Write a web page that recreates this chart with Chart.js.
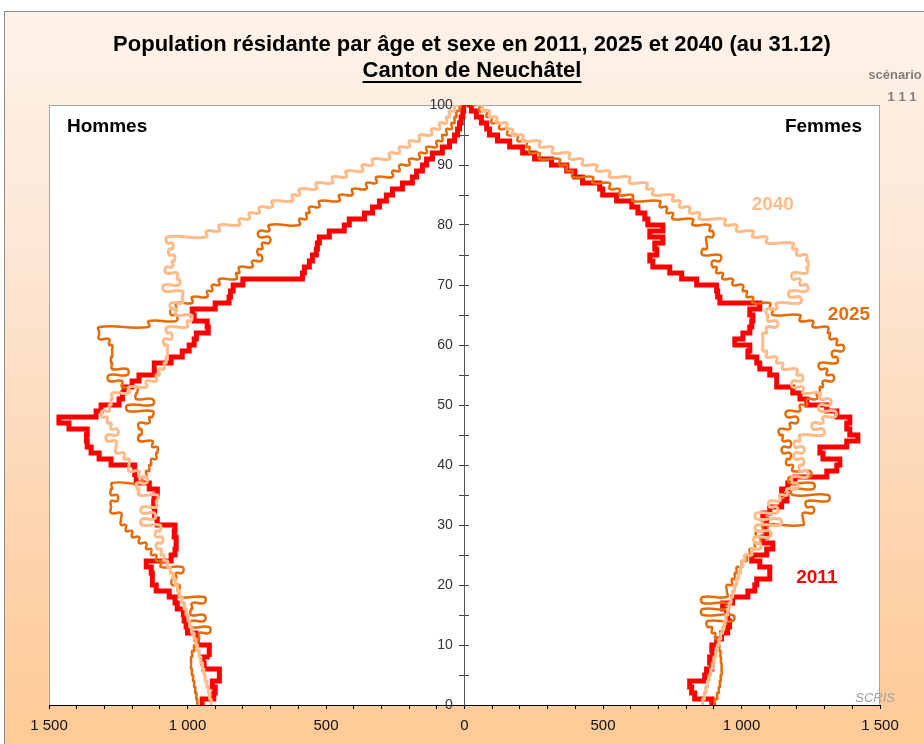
<!DOCTYPE html>
<html lang="fr">
<head>
<meta charset="UTF-8">
<title>Population résidante par âge et sexe - Canton de Neuchâtel</title>
<style>
  html, body { margin: 0; padding: 0; background: #fff; }
  #wrap { width: 924px; height: 744px; }
</style>
</head>
<body>
<div id="wrap"><canvas id="chart" width="924" height="744"></canvas></div>
<script src="https://cdn.jsdelivr.net/npm/chart.js"></script>
<script>
  // âges 0 à 100, une valeur par âge
  const hommes2011 = [
    947, 905, 900, 910, 885, 885, 940, 945, 920, 922,
    965, 970, 1000, 1005, 1012, 1015, 1037, 1045, 1066, 1113,
    1127, 1127, 1131, 1149, 1059, 1045, 1041, 1041, 1048, 1045,
    1109, 1120, 1118, 1122, 1120, 1109, 1138, 1185, 1192, 1190,
    1276, 1319, 1348, 1362, 1365, 1362, 1428, 1464, 1330, 1312,
    1247, 1235, 1229, 1200, 1175, 1120, 1120, 1059, 1019, 994,
    976, 968, 925, 929, 976, 983, 900, 850, 845, 835,
    800, 585, 578, 560, 549, 535, 531, 524, 488, 434,
    416, 361, 332, 307, 282, 260, 224, 188, 173, 152,
    137, 116, 80, 54, 36, 25, 18, 12, 6, 3, 1
  ];
  const hommes2025 = [
    965, 968, 972, 976, 980, 984, 987, 987, 983, 976,
    965, 958, 922, 987, 940, 987, 983, 940, 1030, 1030,
    1055, 1041, 1019, 1095, 1113, 1131, 1149, 1175, 1200, 1222,
    1240, 1240, 1276, 1276, 1254, 1276, 1272, 1164, 1149, 1138,
    1131, 1113, 1109, 1127, 1175, 1167, 1175, 1138, 1127, 1215,
    1127, 1185, 1182, 1236, 1283, 1218, 1272, 1276, 1272, 1272,
    1283, 1319, 1319, 1140, 1041, 1059, 1041, 983, 929, 911,
    885, 824, 813, 766, 734, 745, 730, 705, 741, 705,
    596, 571, 560, 524, 452, 405, 354, 318, 260, 235,
    199, 163, 137, 101, 80, 65, 47, 36, 29, 18, 8
  ];
  const hommes2040 = [
    915, 920, 924, 930, 936, 941, 946, 952, 958, 964,
    970, 976, 985, 992, 998, 1005, 1012, 1020, 1028, 1036,
    1044, 1052, 1062, 1072, 1085, 1095, 1110, 1092, 1113, 1100,
    1164, 1120, 1164, 1113, 1109, 1175, 1182, 1149, 1175, 1211,
    1211, 1229, 1258, 1258, 1290, 1254, 1276, 1290, 1308, 1283,
    1276, 1272, 1211, 1149, 1113, 1102, 1084, 1077, 1073, 1073,
    1084, 1059, 1073, 1001, 987, 1041, 1059, 1019, 1019, 1084,
    1030, 1037, 1077, 1055, 1048, 1066, 1055, 1073, 932, 885,
    813, 777, 741, 694, 622, 596, 535, 477, 427, 369,
    332, 271, 235, 199, 163, 119, 90, 65, 54, 36, 18
  ];
  const femmes2011 = [
    893, 831, 820, 813, 867, 874, 893, 885, 896, 893,
    910, 928, 950, 957, 950, 947, 932, 968, 1023, 1048,
    1055, 1102, 1102, 1066, 1037, 1091, 1113, 1077, 1091, 1084,
    1091, 1077, 1102, 1145, 1164, 1145, 1167, 1193, 1308, 1344,
    1355, 1294, 1283, 1380, 1420, 1391, 1380, 1391, 1344, 1308,
    1236, 1211, 1185, 1127, 1127, 1102, 1066, 1055, 1023, 1030,
    976, 1005, 1030, 1037, 1041, 1030, 1066, 922, 914, 910,
    838, 784, 741, 680, 669, 694, 687, 716, 669, 716,
    662, 651, 626, 604, 549, 499, 488, 426, 398, 369,
    314, 253, 210, 163, 119, 90, 80, 61, 43, 25, 8
  ];
  const femmes2025 = [
    904, 912, 918, 922, 925, 928, 928, 926, 924, 920,
    915, 905, 893, 878, 968, 860, 950, 860, 947, 947,
    965, 976, 983, 1001, 1019, 1030, 1048, 1066, 1055, 1077,
    1222, 1222, 1258, 1236, 1312, 1185, 1258, 1175, 1247, 1185,
    1164, 1175, 1149, 1175, 1149, 1138, 1175, 1200, 1164, 1211,
    1236, 1272, 1283, 1294, 1330, 1308, 1283, 1344, 1330, 1366,
    1344, 1319, 1312, 1258, 1211, 1113, 1102, 1041, 1019, 1005,
    968, 932, 910, 896, 922, 860, 874, 874, 896, 885,
    824, 752, 730, 705, 607, 560, 524, 463, 390, 369,
    343, 271, 235, 224, 192, 155, 126, 98, 80, 54, 29
  ];
  const femmes2040 = [
    860, 866, 871, 877, 883, 889, 895, 901, 907, 913,
    919, 925, 932, 938, 944, 950, 956, 962, 968, 975,
    982, 989, 996, 1004, 1012, 1037, 1066, 1048, 1102, 1055,
    1138, 1055, 1127, 1102, 1138, 1164, 1200, 1185, 1236, 1211,
    1222, 1193, 1222, 1193, 1211, 1294, 1258, 1294, 1337, 1283,
    1319, 1283, 1222, 1185, 1218, 1200, 1149, 1127, 1091, 1077,
    1077, 1077, 1091, 1127, 1095, 1091, 1127, 1211, 1175, 1236,
    1211, 1185, 1236, 1240, 1235, 1200, 1185, 1091, 1041, 983,
    940, 849, 813, 777, 752, 680, 658, 596, 524, 477,
    426, 379, 318, 271, 210, 173, 152, 116, 90, 65, 43
  ];

  const annees = ['2040', '2025', '2011'];
  const couleurs = { '2011': '#FF0000', '2025': '#E46C0A', '2040': '#FFBC8A' };
  const epaisseurs = { '2011': 5, '2025': 2.5, '2040': 3 };
  const lissage = { '2011': 0, '2025': 0.5, '2040': 0.5 };
  const series = {
    '2011': [hommes2011, femmes2011],
    '2025': [hommes2025, femmes2025],
    '2040': [hommes2040, femmes2040]
  };
  // position des étiquettes d'année (valeur, âge)
  const etiquettes = [
    { txt: '2040', x: 1113, y: 83.3 },
    { txt: '2025', x: 1388, y: 65 },
    { txt: '2011', x: 1272, y: 21.2 }
  ];
  const titre = 'Population résidante par âge et sexe en 2011, 2025 et 2040 (au 31.12)';
  const sousTitre = 'Canton de Neuchâtel';
  const police = "'Liberation Sans', Arial, sans-serif";

  // escalier : chaque âge a occupe la tranche [a, a+1]
  function escalier(valeurs, signe) {
    const pts = [];
    valeurs.forEach((v, a) => {
      pts.push({ x: signe * v, y: a });
      if (a < 100) pts.push({ x: signe * v, y: a + 1 });
    });
    return pts;
  }

  function milliers(v) {
    return String(Math.abs(v)).replace(/\B(?=(\d{3})+(?!\d))/g, ' ');
  }

  const datasets = [];
  annees.forEach(an => {
    [[series[an][0], -1], [series[an][1], 1]].forEach(([vals, signe]) => {
      datasets.push({
        label: an + (signe < 0 ? ' H' : ' F'),
        data: escalier(vals, signe),
        showLine: true,
        borderColor: couleurs[an],
        backgroundColor: couleurs[an],
        borderWidth: epaisseurs[an],
        tension: lissage[an],
        pointRadius: 0,
        borderJoinStyle: 'miter',
        fill: false
      });
    });
  });

  const fond = {
    id: 'fond',
    beforeDraw(chart) {
      const { ctx, chartArea: ca, width, height } = chart;
      ctx.save();
      ctx.fillStyle = '#fff';
      ctx.fillRect(0, 0, width, height);
      const g = ctx.createLinearGradient(0, 11, 0, height);
      g.addColorStop(0, '#FEF3EA');
      g.addColorStop(0.35, '#FDE6D3');
      g.addColorStop(0.7, '#FDD5B0');
      g.addColorStop(1, '#FFCA96');
      ctx.fillStyle = g;
      ctx.fillRect(4, 11, width - 4, height - 11);
      ctx.strokeStyle = '#8c8c8c';
      ctx.lineWidth = 1;
      ctx.strokeRect(4.5, 11.5, width, height);
      ctx.fillStyle = '#fff';
      ctx.fillRect(ca.left, ca.top, ca.right - ca.left, ca.bottom - ca.top);
      ctx.strokeStyle = '#a6a6a6';
      ctx.strokeRect(ca.left + 0.5, ca.top + 0.5, ca.right - ca.left - 1, ca.bottom - ca.top);
      ctx.restore();
    }
  };

  const textes = {
    id: 'textes',
    afterDraw(chart) {
      const { ctx, chartArea: ca, scales } = chart;
      ctx.save();
      ctx.textBaseline = 'middle';
      ctx.textAlign = 'center';
      ctx.fillStyle = '#000';
      ctx.font = 'bold 22px ' + police;
      ctx.fillText(titre, 472, 45);
      ctx.fillText(sousTitre, 472, 71);
      const w = ctx.measureText(sousTitre).width;
      ctx.fillRect(472 - w / 2, 81, w, 2);

      ctx.fillStyle = '#7f7f7f';
      ctx.font = 'bold 13px ' + police;
      ctx.fillText('scénario', 895, 75);
      ctx.fillText('1 1 1', 902, 97);

      ctx.fillStyle = '#000';
      ctx.font = 'bold 19px ' + police;
      ctx.textAlign = 'left';
      ctx.fillText('Hommes', ca.left + 18, ca.top + 22);
      ctx.textAlign = 'right';
      ctx.fillText('Femmes', ca.right - 18, ca.top + 22);

      ctx.textAlign = 'center';
      etiquettes.forEach(e => {
        ctx.fillStyle = couleurs[e.txt];
        ctx.fillText(e.txt, scales.x.getPixelForValue(e.x), scales.y.getPixelForValue(e.y));
      });

      ctx.fillStyle = '#a0a0a0';
      ctx.font = 'italic 13px ' + police;
      ctx.textAlign = 'right';
      ctx.textBaseline = 'alphabetic';
      ctx.fillText('SCRIS', ca.right + 15, ca.bottom - 3);
      ctx.restore();
    }
  };

  Chart.defaults.font.family = police;

  new Chart(document.getElementById('chart'), {
    type: 'scatter',
    data: { datasets },
    options: {
      responsive: false,
      animation: false,
      layout: { padding: { left: 49, right: 44, top: 105, bottom: 1 } },
      plugins: { legend: { display: false }, tooltip: { enabled: false } },
      scales: {
        x: {
          type: 'linear',
          min: -1500, max: 1500,
          border: { color: '#000', width: 1 },
          grid: { drawOnChartArea: false, drawTicks: true, tickLength: 4, color: '#000' },
          ticks: {
            stepSize: 100, autoSkip: false, maxRotation: 0, padding: 8,
            color: '#111', font: { size: 15 },
            callback: v => (v % 500 === 0 ? milliers(v) : '')
          }
        },
        y: {
          type: 'linear',
          position: { x: 0 },
          min: 0, max: 100,
          border: { color: '#555', width: 1 },
          grid: { drawOnChartArea: false, drawTicks: true, tickLength: 5, color: '#444' },
          ticks: {
            stepSize: 5, autoSkip: false,
            color: '#333', font: { size: 14 },
            // espaces finaux : écart entre le libellé et l'axe central
            callback: v => (v % 10 === 0 ? String(v) + '   ' : '')
          }
        },
        y2: {
          type: 'linear',
          position: { x: 0 },
          min: 0, max: 100,
          border: { display: false },
          grid: { drawOnChartArea: false, drawTicks: true, tickLength: -4, color: '#444' },
          ticks: { stepSize: 5, display: false }
        }
      }
    },
    plugins: [fond, textes]
  });
</script>
</body>
</html>
